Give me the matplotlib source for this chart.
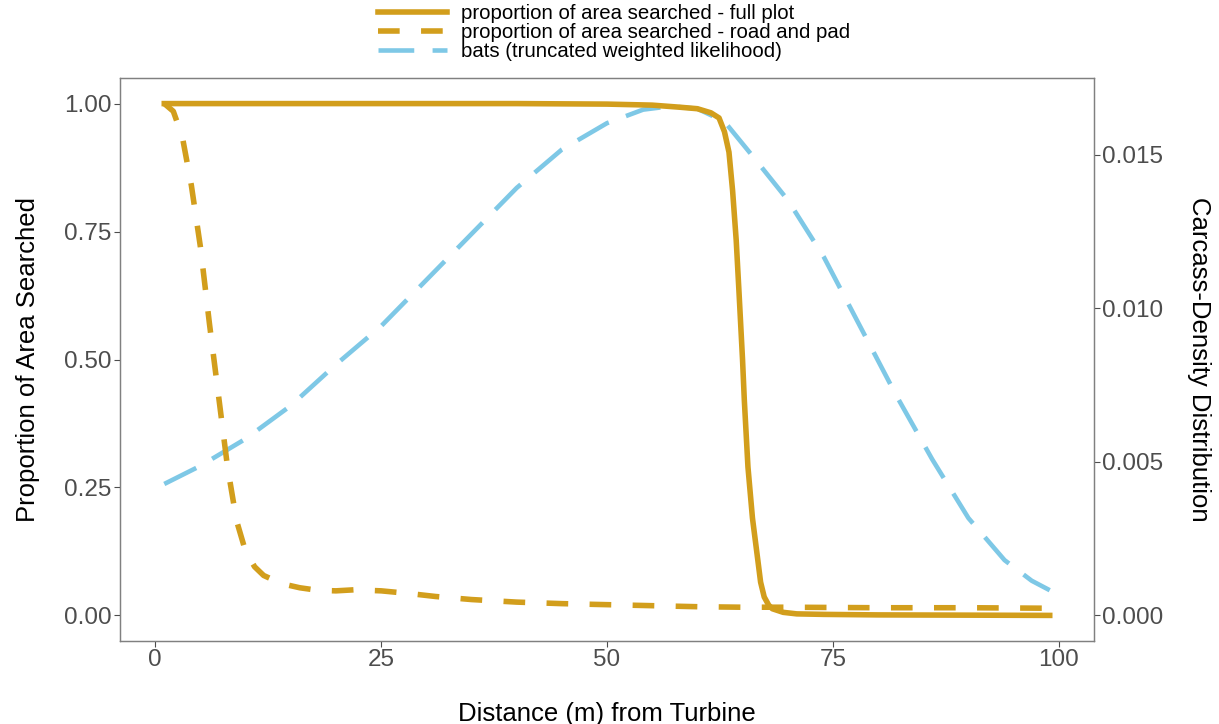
import matplotlib
matplotlib.use('Agg')
import matplotlib.pyplot as plt

plt.rcParams['font.family'] = ['Liberation Sans', 'DejaVu Sans']

# ---------------- data ----------------
full_x = [1, 10, 20, 30, 40, 50, 55, 58, 60, 61.5, 62.4, 63.0, 63.5, 63.9, 64.3,
          64.6, 65.0, 65.2, 65.6, 66.1, 66.7, 67.0, 67.4, 67.9, 68.3, 69.5, 71,
          74, 80, 90, 99]
full_y = [1.0, 1.0, 1.0, 1.0, 1.0, 0.999, 0.997, 0.993, 0.99, 0.982, 0.972, 0.945,
          0.905, 0.83, 0.733, 0.635, 0.50, 0.42, 0.29, 0.19, 0.107, 0.065, 0.036,
          0.02, 0.013, 0.006, 0.003, 0.002, 0.001, 0.0005, 0.0]

road_x = [1, 2, 3, 4, 5, 6, 7, 8, 9, 10, 11, 12, 14, 16, 18, 20, 22, 25, 28, 31,
          35, 40, 45, 50, 55, 60, 65, 70, 80, 90, 99]
road_y = [1.0, 0.985, 0.935, 0.84, 0.72, 0.57, 0.43, 0.29, 0.185, 0.125, 0.095,
          0.078, 0.062, 0.054, 0.049, 0.048, 0.05, 0.048, 0.043, 0.037, 0.031,
          0.026, 0.023, 0.021, 0.019, 0.017, 0.016, 0.016, 0.015, 0.015, 0.014]

bats_x = [1, 5, 10, 15, 20, 25, 30, 35, 40, 45, 50, 54, 57, 60, 63, 66, 70, 74,
          78, 82, 86, 90, 94, 97, 99]
bats_density = [0.00428, 0.00487, 0.00575, 0.00683, 0.00817, 0.00942, 0.01092,
                0.01242, 0.01392, 0.01517, 0.01603, 0.01647, 0.01658, 0.01650,
                0.01608, 0.01500, 0.01353, 0.01167, 0.00942, 0.00717, 0.00508,
                0.00317, 0.00180, 0.00113, 0.00082]

series_labels = ['proportion of area searched - full plot',
                 'proportion of area searched - road and pad',
                 'bats (truncated weighted likelihood)']

x_ticks = [0, 25, 50, 75, 100]
x_tick_labels = ['0', '25', '50', '75', '100']
left_ticks = [0.0, 0.25, 0.5, 0.75, 1.0]
left_tick_labels = ['0.00', '0.25', '0.50', '0.75', '1.00']
right_ticks = [0.0, 0.005, 0.010, 0.015]
right_tick_labels = ['0.000', '0.005', '0.010', '0.015']

x_title = 'Distance (m) from Turbine'
left_title = 'Proportion of Area Searched'
right_title = 'Carcass-Density Distribution'

# secondary axis scale: density * 60 = proportion
SEC_SCALE = 60.0

# ---------------- style ----------------
GOLD = '#D29E1C'
BLUE = '#7EC8E6'
TICK_GREY = '#4D4D4D'
BORDER = '#808080'

W, H = 1219, 724
fig = plt.figure(figsize=(W / 100, H / 100), dpi=100)
left_px, right_px, top_px, bottom_px = 120, 1094, 78, 641
ax = fig.add_axes([left_px / W, 1 - bottom_px / H,
                   (right_px - left_px) / W, (bottom_px - top_px) / H])
ax2 = ax.twinx()
ax.set_zorder(ax2.get_zorder() + 1)
ax.patch.set_visible(False)

ylo, yhi = -0.05, 1.05
ax.set_xlim(-3.9, 103.9)
ax.set_ylim(ylo, yhi)
ax2.set_ylim(ylo / SEC_SCALE, yhi / SEC_SCALE)

l_bats, = ax2.plot(bats_x, bats_density, color=BLUE, lw=3.3,
                   dashes=(7.8, 4.0), dash_capstyle='butt')
l_road, = ax.plot(road_x, road_y, color=GOLD, lw=4.0,
                  dashes=(3.9, 3.85), dash_capstyle='butt')
l_full, = ax.plot(full_x, full_y, color=GOLD, lw=4.0, solid_joinstyle='round')

ax.set_xticks(x_ticks)
ax.set_xticklabels(x_tick_labels)
ax.set_yticks(left_ticks)
ax.set_yticklabels(left_tick_labels)
ax2.set_yticks(right_ticks)
ax2.set_yticklabels(right_tick_labels)

for a in (ax, ax2):
    a.tick_params(axis='both', labelsize=17.5, colors=TICK_GREY,
                  length=4, width=0.8, pad=2)
    for s in a.spines.values():
        s.set_color(BORDER)
        s.set_linewidth(0.9)

ax.set_xlabel(x_title, fontsize=18.5, color='black', labelpad=22)
ax.set_ylabel(left_title, fontsize=18.5, color='black', labelpad=17)
ax2.set_ylabel(right_title, fontsize=18.5, color='black', rotation=270,
               labelpad=34)

fig.legend([l_full, l_road, l_bats], series_labels, loc='upper center',
           bbox_to_anchor=(614 / W, 1 - 4 / H), frameon=False, fontsize=14.7,
           handlelength=3.35, handletextpad=0.68, labelspacing=0.0,
           borderaxespad=0, borderpad=0)

fig.savefig('out.png', dpi=100, facecolor='white')
